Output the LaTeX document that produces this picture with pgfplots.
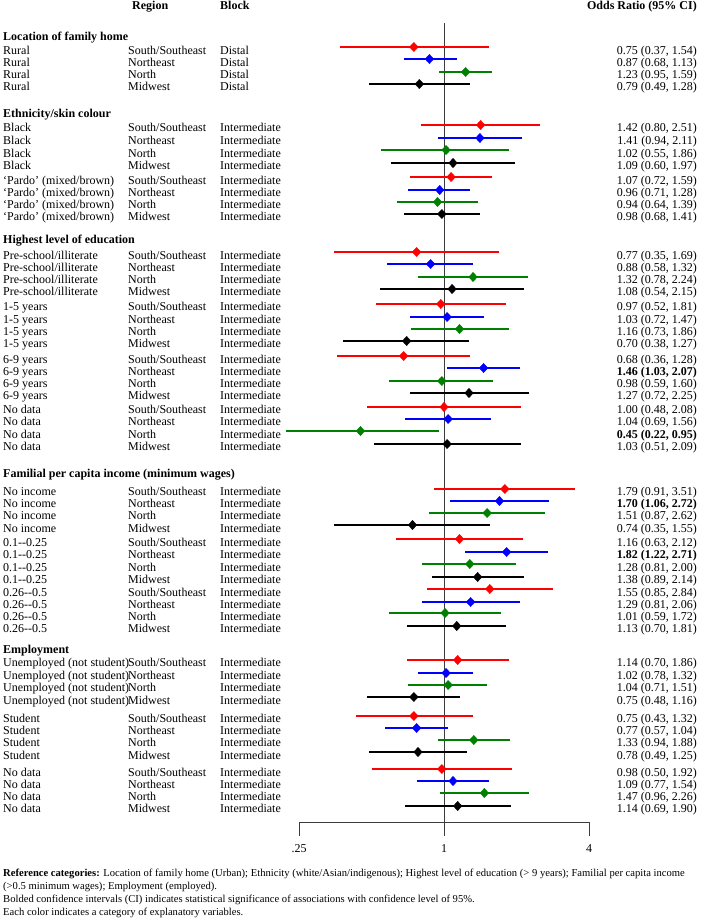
\documentclass[border=0pt]{standalone}
\usepackage{fontspec}
\setmainfont{Liberation Serif}
\usepackage{pgfplots}
\pgfplotsset{compat=1.18}
\usepackage{pgfplotstable}
\definecolor{cred}{RGB}{255,0,0}
\definecolor{cblue}{RGB}{0,0,255}
\definecolor{cgreen}{RGB}{0,128,0}
\definecolor{cline}{RGB}{60,60,60}

% or lo hi y(line position, pt from top, negative)
\pgfplotstableread{
or lo hi y
0.75 0.37 1.54 -47
1.42 0.80 2.51 -125
1.07 0.72 1.59 -177
0.77 0.35 1.69 -252
0.97 0.52 1.81 -304
0.68 0.36 1.28 -356
1.00 0.48 2.08 -407
1.79 0.91 3.51 -489
1.16 0.63 2.12 -539
1.55 0.85 2.84 -589
1.14 0.70 1.86 -660
0.75 0.43 1.32 -716
0.98 0.50 1.92 -769
}\tabred
\pgfplotstableread{
or lo hi y
0.87 0.68 1.13 -59
1.41 0.94 2.11 -138
0.96 0.71 1.28 -190
0.88 0.58 1.32 -264
1.03 0.72 1.47 -317
1.46 1.03 2.07 -368
1.04 0.69 1.56 -419
1.70 1.06 2.72 -501
1.82 1.22 2.71 -552
1.29 0.81 2.06 -602
1.02 0.78 1.32 -673
0.77 0.57 1.04 -728
1.09 0.77 1.54 -781
}\tabblue
\pgfplotstableread{
or lo hi y
1.23 0.95 1.59 -72
1.02 0.55 1.86 -150
0.94 0.64 1.39 -202
1.32 0.78 2.24 -277
1.16 0.73 1.86 -329
0.98 0.59 1.60 -381
0.45 0.22 0.95 -431
1.51 0.87 2.62 -513
1.28 0.81 2.00 -564
1.01 0.59 1.72 -613
1.04 0.71 1.51 -685
1.33 0.94 1.88 -740
1.47 0.96 2.26 -793
}\tabgreen
\pgfplotstableread{
or lo hi y
0.79 0.49 1.28 -84
1.09 0.60 1.97 -163
0.98 0.68 1.41 -214
1.08 0.54 2.15 -289
0.70 0.38 1.27 -341
1.27 0.72 2.25 -393
1.03 0.51 2.09 -444
0.74 0.35 1.55 -525
1.38 0.89 2.14 -577
1.13 0.70 1.81 -626
0.75 0.48 1.16 -697
0.78 0.49 1.25 -752
1.14 0.69 1.90 -806
}\tabblack

\newcommand\Rw[5]{%
 \node[anchor=base west] at (3pt,{-(#1+3.5)*1pt}) {#2};
 \node[anchor=base west] at (128pt,{-(#1+3.5)*1pt}) {#3};
 \node[anchor=base west] at (220pt,{-(#1+3.5)*1pt}) {#4};
 \node[anchor=base east] at (697pt,{-(#1+3.5)*1pt}) {#5};}
\newcommand\Hd[2]{\node[anchor=base west] at (3pt,{-(#1+3.5)*1pt}) {\bfseries #2};}

\pgfplotsset{ci/.style={only marks, mark=diamond*, mark size=4.6pt, mark options={solid, xscale=1.25, fill=#1, draw=#1}, color=#1,
  error bars/.cd, x dir=both, x explicit, error mark=none,
  error bar style={line width=1.6pt, color=#1}}}

\begin{document}
\begin{tikzpicture}[every node/.style={font=\fontsize{12}{14}\selectfont, inner sep=0pt}]
\useasboundingbox (0pt,0pt) rectangle (708pt,-919pt);
\begin{axis}[
  at={(299pt,-822pt)}, anchor=south west,
  scale only axis, width=290pt, height=822pt,
  xmode=log, log basis x=2, xmin=0.25, xmax=4,
  ymin=-822, ymax=0, clip=false,
  axis x line*=bottom, hide y axis,
  x axis line style={cline, line width=1pt},
  xtick={0.25,1,4}, xticklabels={.25,1,4}, minor xtick={},
  tick align=outside, major tick length=14pt,
  xtick style={cline, line width=1pt},
  xticklabel style={font=\fontsize{12}{14}\selectfont, anchor=north, yshift=-8pt},
]
\draw[cline, line width=1pt] (axis cs:1,-23) -- (axis cs:1,-822);
\addplot[ci=cred] table[x=or, y=y, x error plus expr=\thisrow{hi}-\thisrow{or}, x error minus expr=\thisrow{or}-\thisrow{lo}] {\tabred};
\addplot[ci=cblue] table[x=or, y=y, x error plus expr=\thisrow{hi}-\thisrow{or}, x error minus expr=\thisrow{or}-\thisrow{lo}] {\tabblue};
\addplot[ci=cgreen] table[x=or, y=y, x error plus expr=\thisrow{hi}-\thisrow{or}, x error minus expr=\thisrow{or}-\thisrow{lo}] {\tabgreen};
\addplot[ci=black] table[x=or, y=y, x error plus expr=\thisrow{hi}-\thisrow{or}, x error minus expr=\thisrow{or}-\thisrow{lo}] {\tabblack};
\end{axis}

% column headers
\node[anchor=base west] at (132pt,-9.5pt) {\bfseries Region};
\node[anchor=base west] at (220pt,-9.5pt) {\bfseries Block};
\node[anchor=base east] at (697pt,-9.5pt) {\bfseries Odds Ratio (95\% CI)};

\Hd{36.7}{Location of family home}
\Rw{50.7}{Rural}{South/Southeast}{Distal}{0.75 (0.37, 1.54)}
\Rw{62.7}{Rural}{Northeast}{Distal}{0.87 (0.68, 1.13)}
\Rw{75.0}{Rural}{North}{Distal}{1.23 (0.95, 1.59)}
\Rw{87.3}{Rural}{Midwest}{Distal}{0.79 (0.49, 1.28)}

\Hd{114.3}{Ethnicity/skin colour}
\Rw{128.3}{Black}{South/Southeast}{Intermediate}{1.42 (0.80, 2.51)}
\Rw{141.0}{Black}{Northeast}{Intermediate}{1.41 (0.94, 2.11)}
\Rw{153.7}{Black}{North}{Intermediate}{1.02 (0.55, 1.86)}
\Rw{166.0}{Black}{Midwest}{Intermediate}{1.09 (0.60, 1.97)}
\Rw{180.7}{‘Pardo’ (mixed/brown)}{South/Southeast}{Intermediate}{1.07 (0.72, 1.59)}
\Rw{193.3}{‘Pardo’ (mixed/brown)}{Northeast}{Intermediate}{0.96 (0.71, 1.28)}
\Rw{205.0}{‘Pardo’ (mixed/brown)}{North}{Intermediate}{0.94 (0.64, 1.39)}
\Rw{217.3}{‘Pardo’ (mixed/brown)}{Midwest}{Intermediate}{0.98 (0.68, 1.41)}

\Hd{240.0}{Highest level of education}
\Rw{255.7}{Pre-school/illiterate}{South/Southeast}{Intermediate}{0.77 (0.35, 1.69)}
\Rw{267.7}{Pre-school/illiterate}{Northeast}{Intermediate}{0.88 (0.58, 1.32)}
\Rw{280.0}{Pre-school/illiterate}{North}{Intermediate}{1.32 (0.78, 2.24)}
\Rw{292.3}{Pre-school/illiterate}{Midwest}{Intermediate}{1.08 (0.54, 2.15)}
\Rw{307.3}{1-5 years}{South/Southeast}{Intermediate}{0.97 (0.52, 1.81)}
\Rw{320.0}{1-5 years}{Northeast}{Intermediate}{1.03 (0.72, 1.47)}
\Rw{332.3}{1-5 years}{North}{Intermediate}{1.16 (0.73, 1.86)}
\Rw{344.0}{1-5 years}{Midwest}{Intermediate}{0.70 (0.38, 1.27)}
\Rw{359.7}{6-9 years}{South/Southeast}{Intermediate}{0.68 (0.36, 1.28)}
\Rw{371.7}{6-9 years}{Northeast}{Intermediate}{\bfseries 1.46 (1.03, 2.07)}
\Rw{384.0}{6-9 years}{North}{Intermediate}{0.98 (0.59, 1.60)}
\Rw{396.3}{6-9 years}{Midwest}{Intermediate}{1.27 (0.72, 2.25)}
\Rw{410.0}{No data}{South/Southeast}{Intermediate}{1.00 (0.48, 2.08)}
\Rw{422.3}{No data}{Northeast}{Intermediate}{1.04 (0.69, 1.56)}
\Rw{434.7}{No data}{North}{Intermediate}{\bfseries 0.45 (0.22, 0.95)}
\Rw{447.0}{No data}{Midwest}{Intermediate}{1.03 (0.51, 2.09)}

\Hd{474.0}{Familial per capita income (minimum wages)}
\Rw{492.3}{No income}{South/Southeast}{Intermediate}{1.79 (0.91, 3.51)}
\Rw{504.0}{No income}{Northeast}{Intermediate}{\bfseries 1.70 (1.06, 2.72)}
\Rw{516.0}{No income}{North}{Intermediate}{1.51 (0.87, 2.62)}
\Rw{528.7}{No income}{Midwest}{Intermediate}{0.74 (0.35, 1.55)}
\Rw{542.7}{0.1-{}-0.25}{South/Southeast}{Intermediate}{1.16 (0.63, 2.12)}
\Rw{555.0}{0.1-{}-0.25}{Northeast}{Intermediate}{\bfseries 1.82 (1.22, 2.71)}
\Rw{567.7}{0.1-{}-0.25}{North}{Intermediate}{1.28 (0.81, 2.00)}
\Rw{580.0}{0.1-{}-0.25}{Midwest}{Intermediate}{1.38 (0.89, 2.14)}
\Rw{592.7}{0.26-{}-0.5}{South/Southeast}{Intermediate}{1.55 (0.85, 2.84)}
\Rw{605.0}{0.26-{}-0.5}{Northeast}{Intermediate}{1.29 (0.81, 2.06)}
\Rw{616.7}{0.26-{}-0.5}{North}{Intermediate}{1.01 (0.59, 1.72)}
\Rw{629.3}{0.26-{}-0.5}{Midwest}{Intermediate}{1.13 (0.70, 1.81)}

\Hd{650.0}{Employment}
\Rw{663.3}{Unemployed (not student)}{South/Southeast}{Intermediate}{1.14 (0.70, 1.86)}
\Rw{676.0}{Unemployed (not student)}{Northeast}{Intermediate}{1.02 (0.78, 1.32)}
\Rw{688.3}{Unemployed (not student)}{North}{Intermediate}{1.04 (0.71, 1.51)}
\Rw{700.7}{Unemployed (not student)}{Midwest}{Intermediate}{0.75 (0.48, 1.16)}
\Rw{719.0}{Student}{South/Southeast}{Intermediate}{0.75 (0.43, 1.32)}
\Rw{731.0}{Student}{Northeast}{Intermediate}{0.77 (0.57, 1.04)}
\Rw{743.3}{Student}{North}{Intermediate}{1.33 (0.94, 1.88)}
\Rw{755.7}{Student}{Midwest}{Intermediate}{0.78 (0.49, 1.25)}
\Rw{772.7}{No data}{South/Southeast}{Intermediate}{0.98 (0.50, 1.92)}
\Rw{784.7}{No data}{Northeast}{Intermediate}{1.09 (0.77, 1.54)}
\Rw{796.7}{No data}{North}{Intermediate}{1.47 (0.96, 2.26)}
\Rw{809.3}{No data}{Midwest}{Intermediate}{1.14 (0.69, 1.90)}

% footnotes
\begin{scope}[every node/.style={font=\fontsize{10.6}{12}\selectfont, inner sep=0pt, anchor=base west}]
\node at (3pt,-876pt) {\textbf{Reference categories:} Location of family home (Urban); Ethnicity (white/Asian/indigenous); Highest level of education (> 9 years); Familial per capita income};
\node at (3pt,-889.3pt) {(>0.5 minimum wages); Employment (employed).};
\node at (3pt,-902.6pt) {Bolded confidence intervals (CI) indicates statistical significance of associations with confidence level of 95\%.};
\node at (3pt,-915.6pt) {Each color indicates a category of explanatory variables.};
\end{scope}
\end{tikzpicture}
\end{document}
